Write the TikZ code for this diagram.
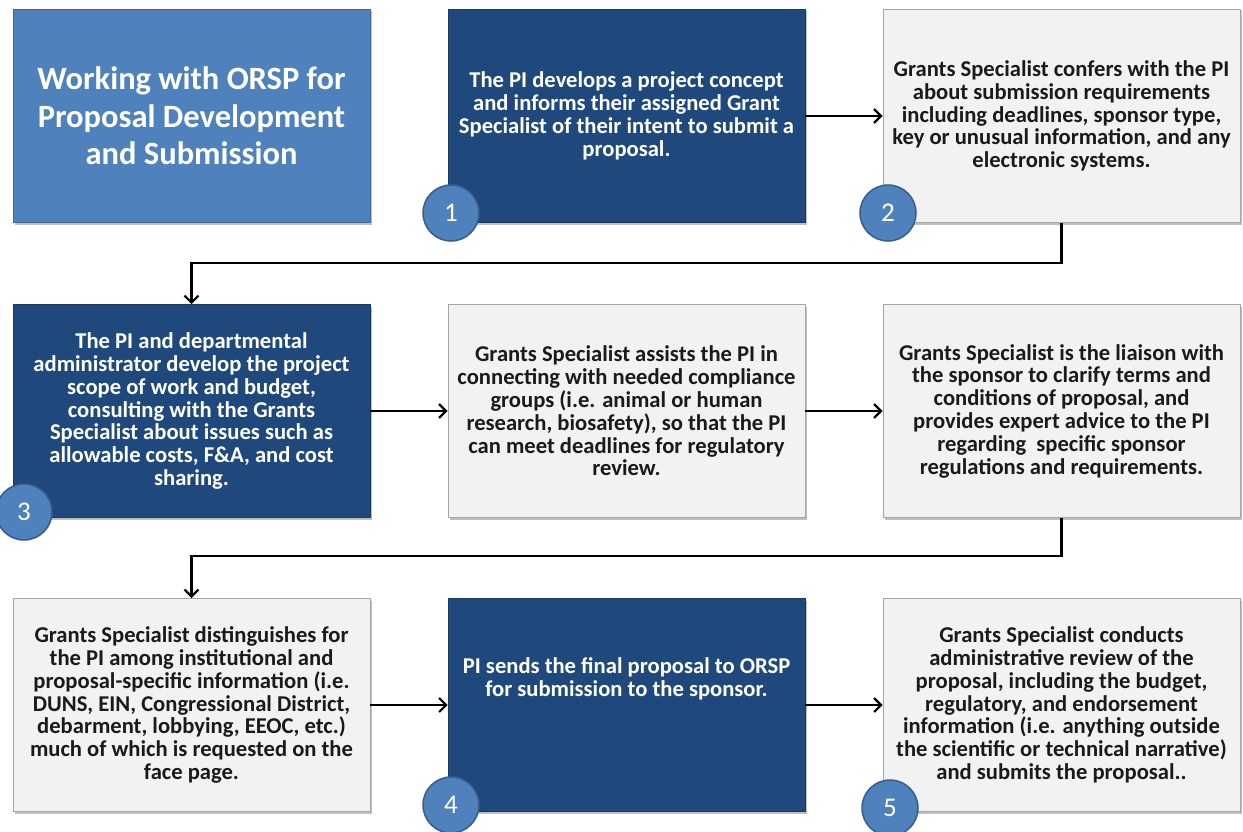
\documentclass[tikz,border=0pt]{standalone}
\usepackage{fontspec}
\setmainfont{Carlito}
\usetikzlibrary{arrows.meta,shadows}
\definecolor{titleblue}{HTML}{4F81BD}
\definecolor{darkblue}{HTML}{1F497D}
\definecolor{lightfill}{HTML}{F2F2F2}
\definecolor{lightborder}{HTML}{A6A6A6}
\definecolor{circborder}{HTML}{385D8A}
\definecolor{txtdark}{HTML}{1A1A1A}
\tikzset{
  box/.style={rectangle, minimum width=357pt, minimum height=213pt, inner sep=0pt,
    align=center, font=\bfseries\fontsize{22.6}{22.8}\selectfont,
    drop shadow={shadow xshift=2pt, shadow yshift=-2pt, opacity=0.25, fill=black}},
  darkbox/.style={box, fill=darkblue, draw=darkblue!80!black, line width=0.6pt, text=white},
  lightbox/.style={box, fill=lightfill, draw=lightborder, line width=0.8pt, text=txtdark},
  titlebox/.style={box, fill=titleblue, draw=titleblue!80!black, line width=0.6pt, text=white,
    font=\bfseries\fontsize{32.5}{37.5}\selectfont},
  num/.style={circle, minimum size=56pt, inner sep=0pt, fill=titleblue, draw=circborder,
    line width=1.5pt, text=white, font=\fontsize{27}{27}\selectfont},
  arr/.style={-{Straight Barb[length=7pt,width=14pt,line width=2.2pt]}, line width=2.2pt, black},
}
\begin{document}
\begin{tikzpicture}[x=1pt,y=-1pt]
\useasboundingbox (0,0) rectangle (1243,832);
\fill[white] (0,0) rectangle (1243,832);
% row 1
\node[titlebox] (t) at (191.5,116) {Working with ORSP for\\Proposal Development\\and Submission};
\node[darkbox] (b1) at (626.5,116) {The PI develops a project concept\\and informs their assigned Grant\\Specialist of their intent to submit a\\proposal.};
\node[lightbox] (b2) at (1061.5,116) {Grants Specialist confers with the PI\\about submission requirements\\including deadlines, sponsor type,\\key or unusual information, and any\\electronic systems.};
% row 2
\node[darkbox] (b3) at (191.5,411) {The PI and departmental\\administrator develop the project\\scope of work and budget,\\consulting with the Grants\\Specialist about issues such as\\allowable costs, F\&A, and cost\\sharing.};
\node[lightbox] (b4) at (626.5,411) {Grants Specialist assists the PI in\\connecting with needed compliance\\groups (i.e. animal or human\\research, biosafety), so that the PI\\can meet deadlines for regulatory\\review.};
\node[lightbox] (b5) at (1061.5,411) {Grants Specialist is the liaison with\\the sponsor to clarify terms and\\conditions of proposal, and\\provides expert advice to the PI\\regarding\ \ specific sponsor\\regulations and requirements.};
% row 3
\node[lightbox] (b6) at (191.5,705) {Grants Specialist distinguishes for\\the PI among institutional and\\proposal-specific information (i.e.\\DUNS, EIN, Congressional District,\\debarment, lobbying, EEOC, etc.)\\much of which is requested on the\\face page.};
\node[darkbox] (b7) at (626.5,705) {};
\node[text=white, align=center, font=\bfseries\fontsize{22.6}{22.8}\selectfont] (b7t) at (626.5,679) {PI sends the final proposal to ORSP\\for submission to the sponsor.};
\node[lightbox] (b8) at (1061.5,705) {Grants Specialist conducts\\administrative review of the\\proposal, including the budget,\\regulatory, and endorsement\\information (i.e. anything outside\\the scientific or technical narrative)\\and submits the proposal..};
% connectors
\coordinate (k1) at (1061.5,263);
\coordinate (k2) at (1061.5,556);
\draw[arr] (b1.east) -- (b2.west);
\draw[arr] (b2.south) -- (k1) -| (b3.north);
\draw[arr] (b3.east) -- (b4.west);
\draw[arr] (b4.east) -- (b5.west);
\draw[arr] (b5.south) -- (k2) -| (b6.north);
\draw[arr] (b6.east) -- (b7.west);
\draw[arr] (b7.east) -- (b8.west);
% number circles
\node[num] (c1) at (451,213) {1};
\node[num] (c2) at (888,213) {2};
\node[num] (c3) at (24,512) {3};
\node[num] (c4) at (451,805) {4};
\node[num] (c5) at (890,808) {5};
\end{tikzpicture}
\end{document}
